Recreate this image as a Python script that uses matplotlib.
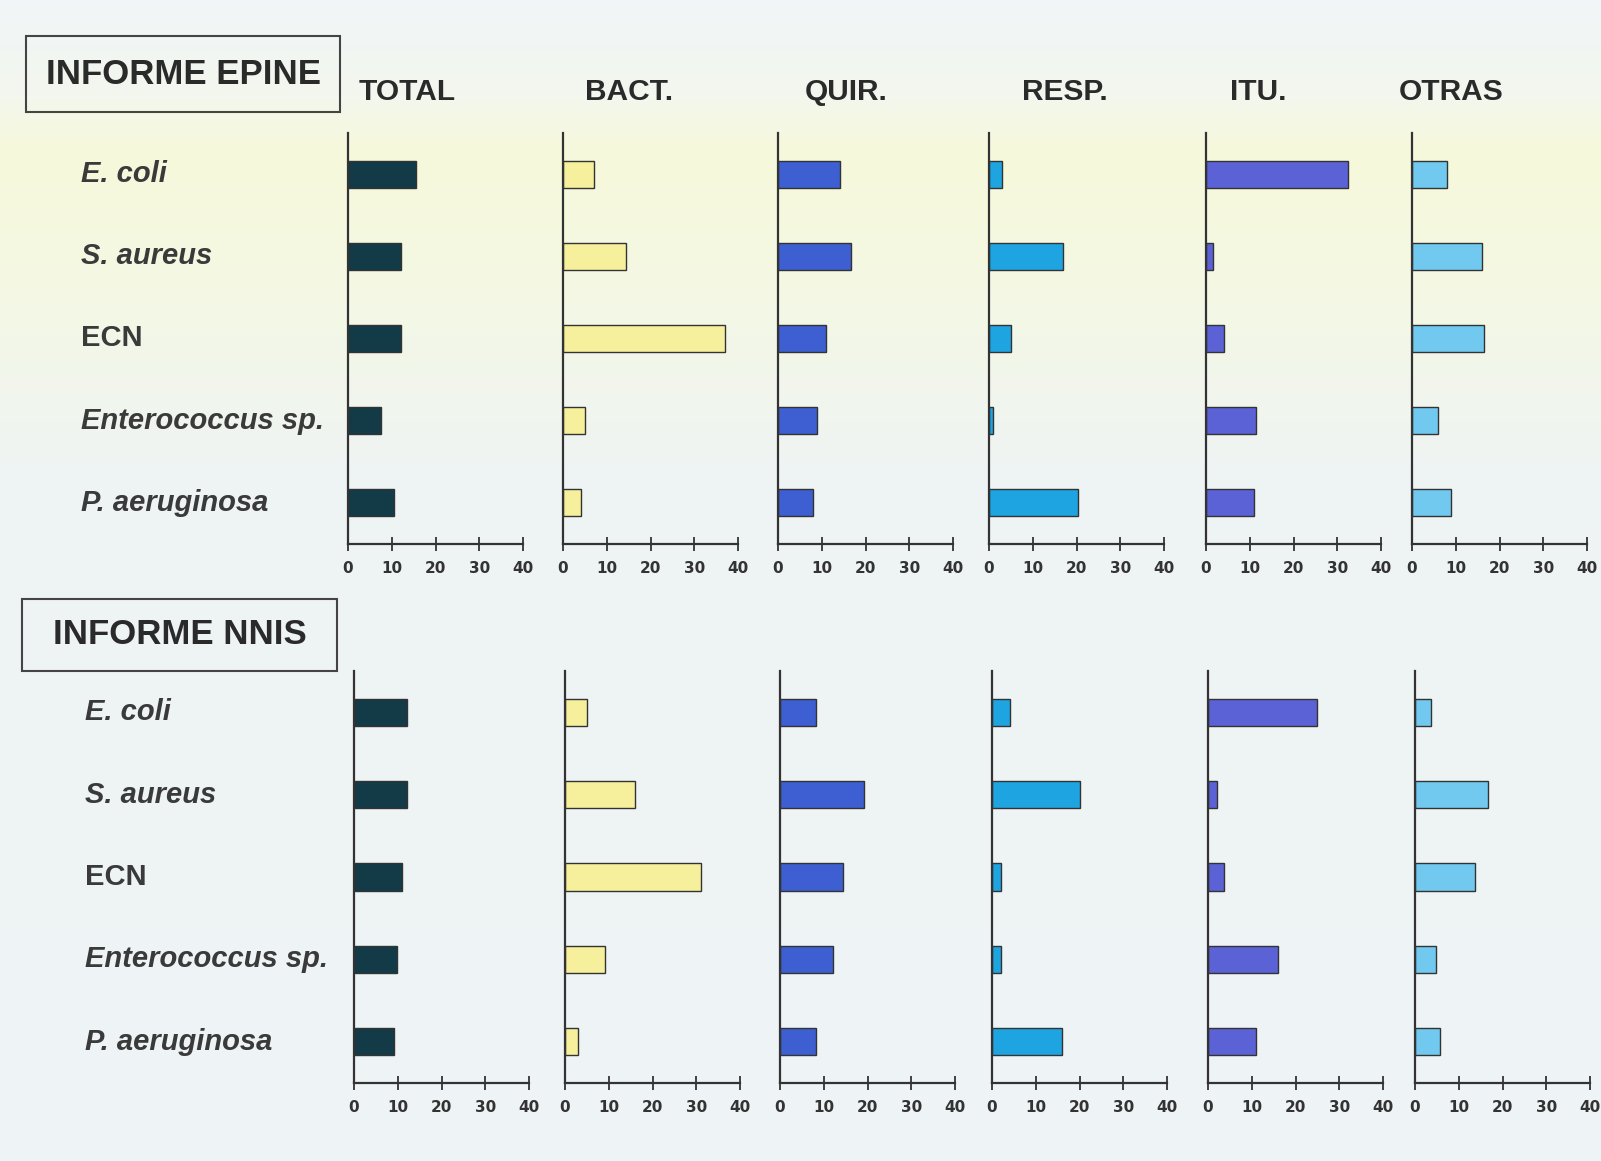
import numpy as np
import matplotlib.pyplot as plt
from matplotlib.colors import LinearSegmentedColormap

organisms = ["E. coli", "S. aureus", "ECN", "Enterococcus sp.", "P. aeruginosa"]
italic = [True, True, False, True, True]
panels = ["TOTAL", "BACT.", "QUIR.", "RESP.", "ITU.", "OTRAS"]
colors = ["#123a47", "#f6ef9c", "#3e5fd2", "#1fa4e2", "#5b62d6", "#72c9f0"]
ticks = [0, 10, 20, 30, 40]

# values per panel, order follows organisms
epine_total = [15.6, 12, 12, 7.5, 10.5]
epine_bact = [7, 14.5, 37, 5, 4]
epine_quir = [14.2, 16.6, 11, 8.9, 7.9]
epine_resp = [3, 17, 5, 1, 20.3]
epine_itu = [32.5, 1.6, 4, 11.4, 11]
epine_otras = [8, 16.1, 16.4, 6, 8.9]

nnis_total = [12, 12, 11, 9.8, 9.1]
nnis_bact = [5, 16, 31, 9.1, 3]
nnis_quir = [8.2, 19.2, 14.3, 12.1, 8.2]
nnis_resp = [4, 20.1, 2, 2, 16]
nnis_itu = [25, 2, 3.7, 15.9, 11]
nnis_otras = [3.7, 16.6, 13.6, 4.7, 5.6]

epine = [epine_total, epine_bact, epine_quir, epine_resp, epine_itu, epine_otras]
nnis = [nnis_total, nnis_bact, nnis_quir, nnis_resp, nnis_itu, nnis_otras]

W, H = 1601, 1161
fig = plt.figure(figsize=(W / 100, H / 100), dpi=100)
fig.patch.set_facecolor("#eef3f5")

# faint paper background with yellowish band at top
bg = fig.add_axes([0, 0, 1, 1], zorder=-10)
bg.axis("off")
cmap = LinearSegmentedColormap.from_list(
    "paper", [(0.0, "#f1f5f7"), (0.08, "#f3f7ee"), (0.13, "#f6f9da"),
              (0.25, "#f4f8e4"), (0.40, "#eff4f3"), (1.0, "#eef3f6")])
grad = np.linspace(0, 1, 256).reshape(-1, 1)
bg.imshow(grad, aspect="auto", cmap=cmap, extent=[0, 1, 0, 1], origin="upper")

font = ["Liberation Sans", "DejaVu Sans"]
txt = "#2a2a2a"

rows = [
    dict(data=epine, title="INFORME EPINE", box=(26, 36, 340, 112),
         x0=[348, 563, 778, 989, 1206, 1412], top=133, bottom=544, label_x=81, heads=True),
    dict(data=nnis, title="INFORME NNIS", box=(22, 599, 337, 671),
         x0=[354, 565, 780, 992, 1208, 1415], top=671, bottom=1083, label_x=85, heads=False),
]
head_x = [407, 629, 846, 1065, 1258, 1451]
aw = 175

for r in rows:
    bx0, by0, bx1, by1 = r["box"]
    fig.patches.append(plt.Rectangle((bx0 / W, 1 - by1 / H), (bx1 - bx0) / W, (by1 - by0) / H,
                                     transform=fig.transFigure, fill=False,
                                     edgecolor="#444444", lw=1.5))
    fig.text((bx0 + bx1) / 2 / W, 1 - (by0 + by1) / 2 / H, r["title"], ha="center", va="center",
             fontsize=25, fontweight="bold", color=txt, family=font)
    axes_list = []
    for i, vals in enumerate(r["data"]):
        ax = fig.add_axes([r["x0"][i] / W, 1 - r["bottom"] / H, aw / W, (r["bottom"] - r["top"]) / H])
        ax.set_facecolor("none")
        y = np.arange(len(organisms))
        ax.barh(y, vals, height=0.33, color=colors[i], edgecolor="#333333", linewidth=1.0)
        ax.set_xlim(0, 40)
        ax.set_ylim(len(organisms) - 0.5, -0.5)
        ax.set_xticks(ticks)
        ax.set_xticklabels([str(t) for t in ticks], fontsize=11, fontweight="bold", color="#333333")
        ax.tick_params(axis="x", direction="inout", length=10, width=1.3, color="#333333", pad=7)
        ax.set_yticks([])
        for s in ["top", "right"]:
            ax.spines[s].set_visible(False)
        for s in ["left", "bottom"]:
            ax.spines[s].set_color("#333333")
            ax.spines[s].set_linewidth(1.6)
        axes_list.append(ax)
        if r["heads"]:
            fig.text(head_x[i] / W, 1 - 92 / H, panels[i], ha="center", va="center",
                     fontsize=21.5, fontweight="bold", color=txt, family=font)
    ax0 = axes_list[0]
    for j, name in enumerate(organisms):
        xf = r["label_x"] / W
        yd = ax0.transData.transform((0, j))[1]
        fig.text(xf, yd / H, name, ha="left", va="center", fontsize=21, fontweight="bold",
                 style="italic" if italic[j] else "normal", color="#3a3a3a", family=font)

fig.savefig("out.png", dpi=100, facecolor=fig.get_facecolor())
